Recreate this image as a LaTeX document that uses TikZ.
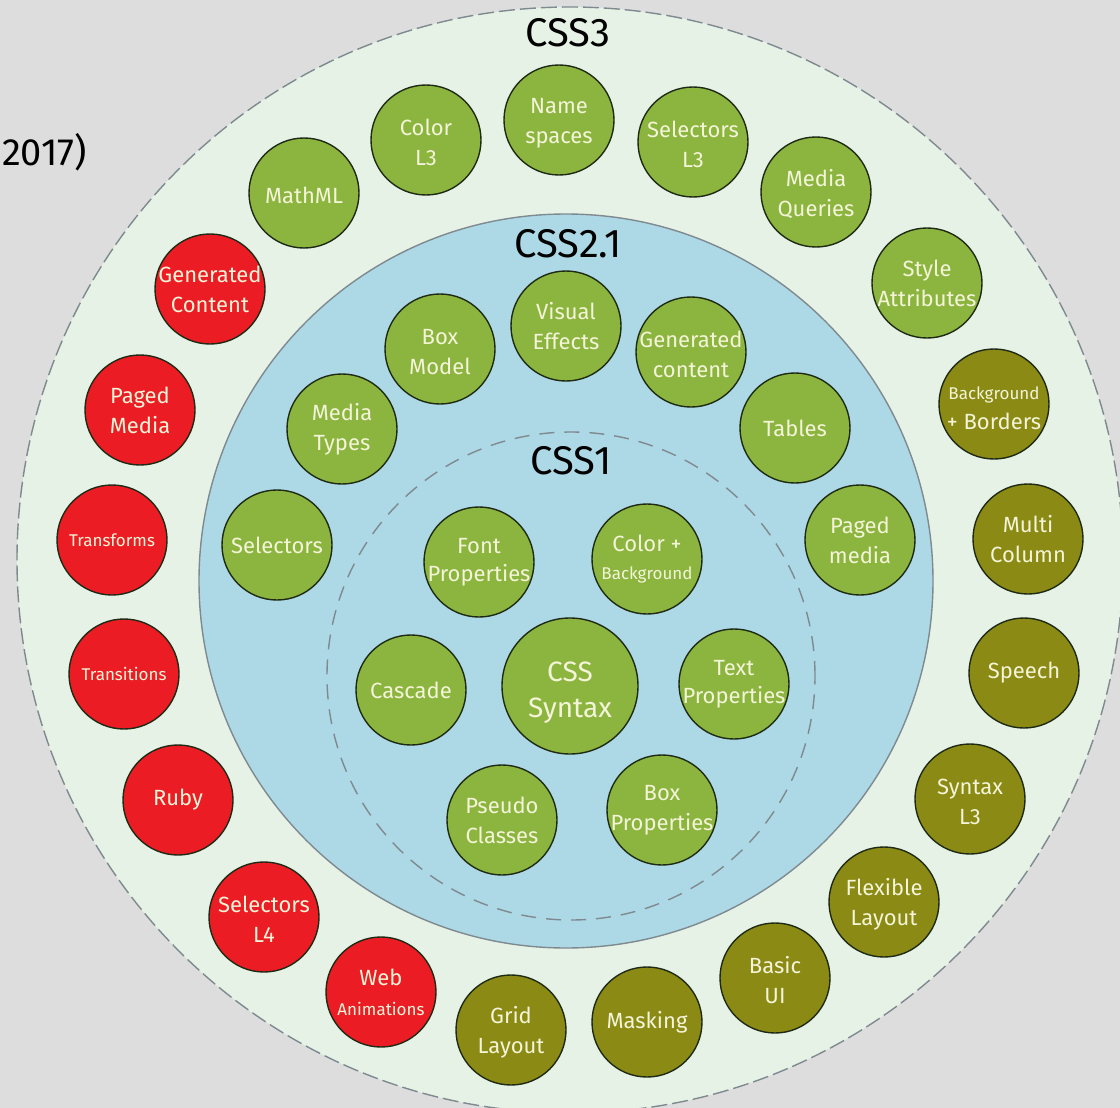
\documentclass[tikz,border=0pt]{standalone}
\usepackage{fontspec}
\setmainfont{Fira Sans}
\definecolor{bgc}{HTML}{DDDDDD}
\definecolor{outerc}{HTML}{E7F2E7}
\definecolor{bluec}{HTML}{ADD8E6}
\definecolor{ringc}{HTML}{7E8A8F}
\definecolor{greenc}{HTML}{8BB53F}
\definecolor{redc}{HTML}{EC1C24}
\definecolor{olivec}{HTML}{8B8A15}
\definecolor{edgec}{HTML}{1E2A14}
\definecolor{txtc}{HTML}{F4F4D8}
\newcommand{\mkc}[1]{\makebox[0pt]{#1}}
\newcommand{\mkt}[1]{\makebox[0pt]{\rule{0pt}{21pt}#1}}
\newcommand{\smf}{\fontsize{17}{20}\selectfont}
\begin{document}
\begin{tikzpicture}[x=1pt,y=-1pt,
  bub/.style={circle, draw=edgec, line width=1.4pt, minimum size=110pt, inner sep=0pt,
              text=txtc, align=center, font=\fontsize{22}{30}\selectfont},
  gr/.style={bub, fill=greenc},
  rd/.style={bub, fill=redc},
  ol/.style={bub, fill=olivec},
  lvl/.style={font=\fontsize{40}{40}\selectfont, text=black, inner sep=0pt}]
\useasboundingbox (0,0) rectangle (1120,1108);
\clip (0,0) rectangle (1120,1108);
\fill[bgc] (0,0) rectangle (1120,1108);
% rings
\node[circle, inner sep=0pt, minimum size=1106pt, fill=outerc, draw=ringc, line width=1.4pt,
      dash pattern=on 16pt off 5pt] (ring3) at (570,560) {};
\node[circle, inner sep=0pt, minimum size=734pt, fill=bluec, draw=ringc, line width=1.4pt] (ring2) at (566,581) {};
\node[circle, inner sep=0pt, minimum size=488pt, draw=ringc, line width=1.4pt,
      dash pattern=on 15pt off 10pt] (ring1) at (571,676) {};
% level labels
\node[lvl] (l3) at (568,33) {CSS3};
\node[lvl] (l2) at (568,244) {CSS2.1};
\node[lvl] (l1) at (571,461) {CSS1};
\node[anchor=east, inner sep=0pt, font=\fontsize{38}{38}\selectfont] (yr) at (87,152) {2017)};
% CSS3 ring
\node[gr] (namespaces) at (559,120) {\mkt{Name}\\\mkc{spaces}};
\node[gr] (colorl3) at (426,140) {\mkt{Color}\\\mkc{L3}};
\node[gr] (selectorsl3) at (693,142) {\mkt{Selectors}\\\mkc{L3}};
\node[gr] (mathml) at (304,193) {\mkt{MathML}};
\node[gr] (mediaq) at (816,192) {\mkt{Media}\\\mkc{Queries}};
\node[rd] (gencontent) at (210,289) {\mkc{Generated}\\\mkc{Content}};
\node[gr] (styleattr) at (927,283) {\mkc{Style}\\\mkc{Attributes}};
\node[rd] (pagedmedia3) at (140,410) {\mkc{Paged}\\\mkc{Media}};
\node[ol] (bgborders) at (994,404) {\mkc{\smf\rule{0pt}{22pt}Background}\\\mkc{+ Borders}};
\node[rd] (transforms) at (112,540) {\mkc{\smf Transforms}};
\node[ol] (multicol) at (1028,539) {\mkc{Multi}\\\mkc{Column}};
\node[rd] (transitions) at (124,674) {\mkc{\smf Transitions}};
\node[ol] (speech) at (1024,673) {\mkc{Speech}};
\node[rd] (ruby) at (178,800) {\mkc{Ruby}};
\node[ol] (syntaxl3) at (970,799) {\mkt{Syntax}\\\mkc{L3}};
\node[rd] (selectorsl4) at (264,917) {\mkt{Selectors}\\\mkc{L4}};
\node[ol] (flexlayout) at (884,902) {\mkt{Flexible}\\\mkc{Layout}};
\node[rd] (webanim) at (381,992) {\mkc{Web}\\\mkc{\smf Animations}};
\node[ol] (basicui) at (775,978) {\mkt{Basic}\\\mkc{UI}};
\node[ol] (gridlayout) at (511,1030) {\mkt{Grid}\\\mkc{Layout}};
\node[ol] (masking) at (647,1022) {\mkc{Masking}};
% CSS2.1 ring
\node[gr] (visualfx) at (566,326) {\mkc{Visual}\\\mkc{Effects}};
\node[gr] (boxmodel) at (440,349) {\mkt{Box}\\\mkc{Model}};
\node[gr] (gencontent2) at (691,352) {\mkt{Generated}\\\mkc{content}};
\node[gr] (mediatypes) at (342,429) {\mkc{Media}\\\mkc{Types}};
\node[gr] (tables) at (795,428) {\mkc{Tables}};
\node[gr] (selectors) at (277,545) {\mkc{Selectors}};
\node[gr] (pagedmedia2) at (860,540) {\mkc{Paged}\\\mkc{media}};
% CSS1
\node[gr, font=\fontsize{22}{28}\selectfont] (fontprops) at (479,562) {\mkc{Font}\\\mkc{Properties}};
\node[gr, font=\fontsize{22}{28}\selectfont] (colorbg) at (647,559) {\mkc{Color +}\\\mkc{\smf Background}};
\node[gr] (cascade) at (411,690) {\mkc{Cascade}};
\node[gr, minimum size=136pt, font=\fontsize{28}{36}\selectfont] (csssyntax) at (570,686) {\mkc{\rule{0pt}{32pt}CSS}\\\mkc{Syntax}};
\node[gr, font=\fontsize{22}{28}\selectfont] (textprops) at (734,684) {\mkc{Text}\\\mkc{Properties}};
\node[gr] (pseudo) at (502,820) {\mkc{Pseudo}\\\mkc{Classes}};
\node[gr] (boxprops) at (662,810) {\mkc{Box}\\\mkc{Properties}};
\end{tikzpicture}
\end{document}
